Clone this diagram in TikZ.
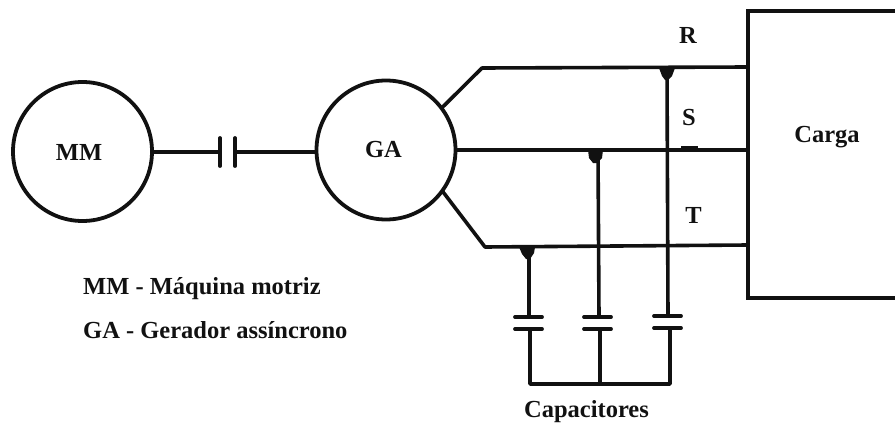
\documentclass[tikz,border=0pt]{standalone}
\usepackage{fontspec}
\setmainfont{Liberation Serif}
\definecolor{ink}{HTML}{111111}
\tikzset{
  wire/.style={draw=ink,line width=3.6pt,line join=round},
  machine/.style={circle,draw=ink,line width=3.8pt,minimum size=139pt,inner sep=0pt,outer sep=0pt},
  loadbox/.style={rectangle,draw=ink,line width=3.8pt,minimum width=200pt,minimum height=287pt,inner sep=0pt,outer sep=0pt},
  plate/.style={draw=ink,line width=3.8pt,line cap=round},
  dotblob/.style={fill=ink,draw=none},
  lbl/.style={text=ink,inner sep=0pt,font=\fontsize{24.5}{27}\selectfont\bfseries},
  pt/.style={coordinate}
}
\begin{document}
\begin{tikzpicture}[x=1pt,y=-1pt]
\useasboundingbox (0,0) rectangle (895,423);
\node[machine] (MM) at (82.5,151.5) {};
\node[machine] (GA) at (386,150) {};
\node[loadbox,anchor=north west] (box) at (748,11) {};
% coupling
\node[pt] (c1t) at (220,138) {}; \node[pt] (c1b) at (220,166) {};
\node[pt] (c2t) at (235,138) {}; \node[pt] (c2b) at (235,166) {};
\node[pt] (c1m) at (220,152) {}; \node[pt] (c2m) at (235,152) {};
\draw[wire] (MM.east |- c1m) -- (c1m);
\draw[wire] (c2m) -- (GA.west |- c2m);
\draw[plate] (c1t) -- (c1b);
\draw[plate] (c2t) -- (c2b);
% lines
\node[pt] (r1) at (482,68) {}; \node[pt] (r2) at (748,67) {};
\node[pt] (s2) at (748,150) {};
\node[pt] (t1) at (485,247) {}; \node[pt] (t2) at (748,245) {};
\draw[wire] (GA.37) -- (r1) -- (r2);
\draw[wire] (GA.east) -- (s2);
\draw[wire] (GA.-36) -- (t1) -- (t2);
% capacitors
\node[pt] (ja) at (529,247) {}; \node[pt] (jb) at (598,150) {}; \node[pt] (jc) at (667,68) {};
\node[pt] (at) at (529,316) {}; \node[pt] (ab) at (530,329) {};
\node[pt] (bt) at (599,316) {}; \node[pt] (bb) at (600,329) {};
\node[pt] (ct) at (668,316) {}; \node[pt] (cb) at (670,329) {};
\node[pt] (bus1) at (530,384) {}; \node[pt] (bus2) at (600,384) {}; \node[pt] (bus3) at (670,384) {};
\draw[wire] (ja) -- (at);
\draw[wire] (jb) -- (bt);
\draw[wire] (jc) -- (ct);
\draw[wire] (ab) -- (bus1) -- (bus3) -- (cb);
\draw[wire] (bb) -- (bus2);
\draw[plate] (515,317) -- (542,317);
\draw[plate] (515,329) -- (542,329);
\draw[plate] (584,317) -- (611,317);
\draw[plate] (584,329) -- (611,329);
\draw[plate] (654,316) -- (681,316);
\draw[plate] (654,328) -- (681,328);
% junction blobs
\fill[dotblob] (659,68) -- (675,68) -- (672,76) -- (668,80) -- (665,80) -- (662,76) -- cycle;
\fill[dotblob] (588,150) -- (603,150) -- (602,158) -- (597,163) -- (593,163) -- (589,158) -- cycle;
\fill[dotblob] (519,247) -- (535,247) -- (534,253) -- (530,259) -- (526,259) -- (522,254) -- cycle;
\draw[draw=ink,line width=1.6pt] (681,147) -- (698,147);
% labels
\node[lbl] (mmt) at (79,152) {MM};
\node[lbl] (gat) at (383.5,150) {GA};
\node[lbl] (R) at (688,35) {R};
\node[lbl] (S) at (689,118) {S};
\node[lbl] (T) at (693.5,215) {T};
\node[lbl] (carga) at (827,137) {Carga};
\node[lbl,anchor=west] (leg1) at (83,289) {MM - Máquina motriz};
\node[lbl,anchor=west] (leg2) at (83,330) {GA - Gerador assíncrono};
\node[lbl] (cap) at (586.5,412) {Capacitores};
\end{tikzpicture}
\end{document}
